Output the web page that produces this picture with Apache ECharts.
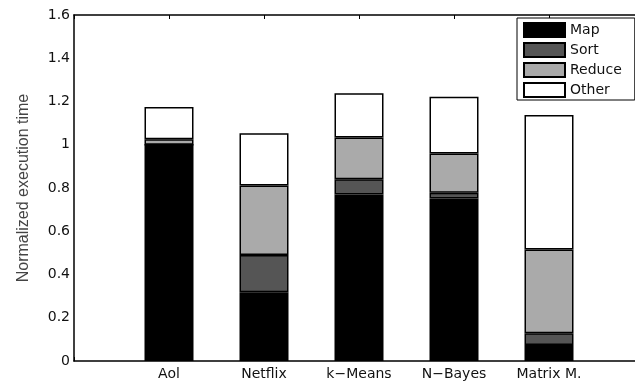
<!DOCTYPE html>
<html>
<head>
<meta charset="utf-8">
<script src="https://cdn.jsdelivr.net/npm/echarts@6/dist/echarts.min.js"></script>
<style>html,body{margin:0;padding:0;background:#fff}#c{width:635px;height:385px}</style>
</head>
<body>
<div id="c"></div>
<script>
var categories = ['Aol', 'Netflix', 'k\u2212Means', 'N\u2212Bayes', 'Matrix M.'];
var mapVals    = [1.000, 0.318, 0.770, 0.752, 0.074];
var sortVals   = [0.000, 0.172, 0.070, 0.026, 0.054];
var reduceVals = [0.025, 0.321, 0.193, 0.182, 0.388];
var otherVals  = [0.150, 0.242, 0.205, 0.262, 0.622];
var yTicks = [0, 0.2, 0.4, 0.6, 0.8, 1, 1.2, 1.4, 1.6];

var FONT = 'DejaVu Sans';
// padded category list: empty slot at each end so the first bar sits one slot from the y axis
var axisCats = [' '].concat(categories).concat(['  ']);
function pts(vals){ return vals.map(function(v,i){ return [categories[i], v]; }); }
function mkSeries(name, vals, color){
  return {
    name: name, type: 'bar', stack: 'total', barWidth: 49,
    data: pts(vals),
    itemStyle: { color: color, borderColor: '#000', borderWidth: 1.5 }
  };
}
var chart = echarts.init(document.getElementById('c'), null, {renderer: 'canvas'});
chart.setOption({
  animation: false,
  backgroundColor: '#fff',
  grid: { left: 74, top: 15, width: 570, height: 346, containLabel: false, outerBoundsMode: 'none' },
  legend: {
    orient: 'vertical', left: 517, top: 18,
    padding: [4, 13, 2, 6],
    itemWidth: 41, itemHeight: 14, itemGap: 4, icon: 'rect',
    backgroundColor: '#fff', borderColor: '#000', borderWidth: 1,
    textStyle: { fontFamily: FONT, fontSize: 14, color: '#111', lineHeight: 14 },
    data: ['Map', 'Sort', 'Reduce', 'Other']
  },
  xAxis: [{
    type: 'category', data: axisCats, boundaryGap: false,
    axisLine: { lineStyle: { color: '#000', width: 1.5 } },
    axisTick: { inside: true, length: 4, lineStyle: { color: '#000' } },
    axisLabel: { fontFamily: FONT, fontSize: 14, color: '#111', margin: 6, interval: 0 }
  }, {
    type: 'category', data: axisCats, boundaryGap: false, position: 'top',
    axisLine: { lineStyle: { color: '#000', width: 1.5 } },
    axisTick: { inside: true, length: 4, lineStyle: { color: '#000' } },
    axisLabel: { show: false }
  }],
  yAxis: {
    type: 'value', min: 0, max: 1.6, interval: 0.2,
    name: 'Normalized execution time', nameLocation: 'middle', nameGap: 42,
    nameTextStyle: { fontFamily: 'Liberation Sans', fontSize: 16, color: '#444' },
    splitLine: { show: false },
    axisLine: { show: true, lineStyle: { color: '#000', width: 1.5 } },
    axisTick: { inside: true, length: 5, lineStyle: { color: '#000' } },
    axisLabel: {
      fontFamily: FONT, fontSize: 14, color: '#111', margin: 4,
      formatter: function(v){ return String(Math.round(v*10)/10); }
    }
  },
  series: [
    mkSeries('Map', mapVals, '#000000'),
    mkSeries('Sort', sortVals, '#555555'),
    mkSeries('Reduce', reduceVals, '#aaaaaa'),
    mkSeries('Other', otherVals, '#ffffff')
  ]
});
</script>
</body>
</html>
